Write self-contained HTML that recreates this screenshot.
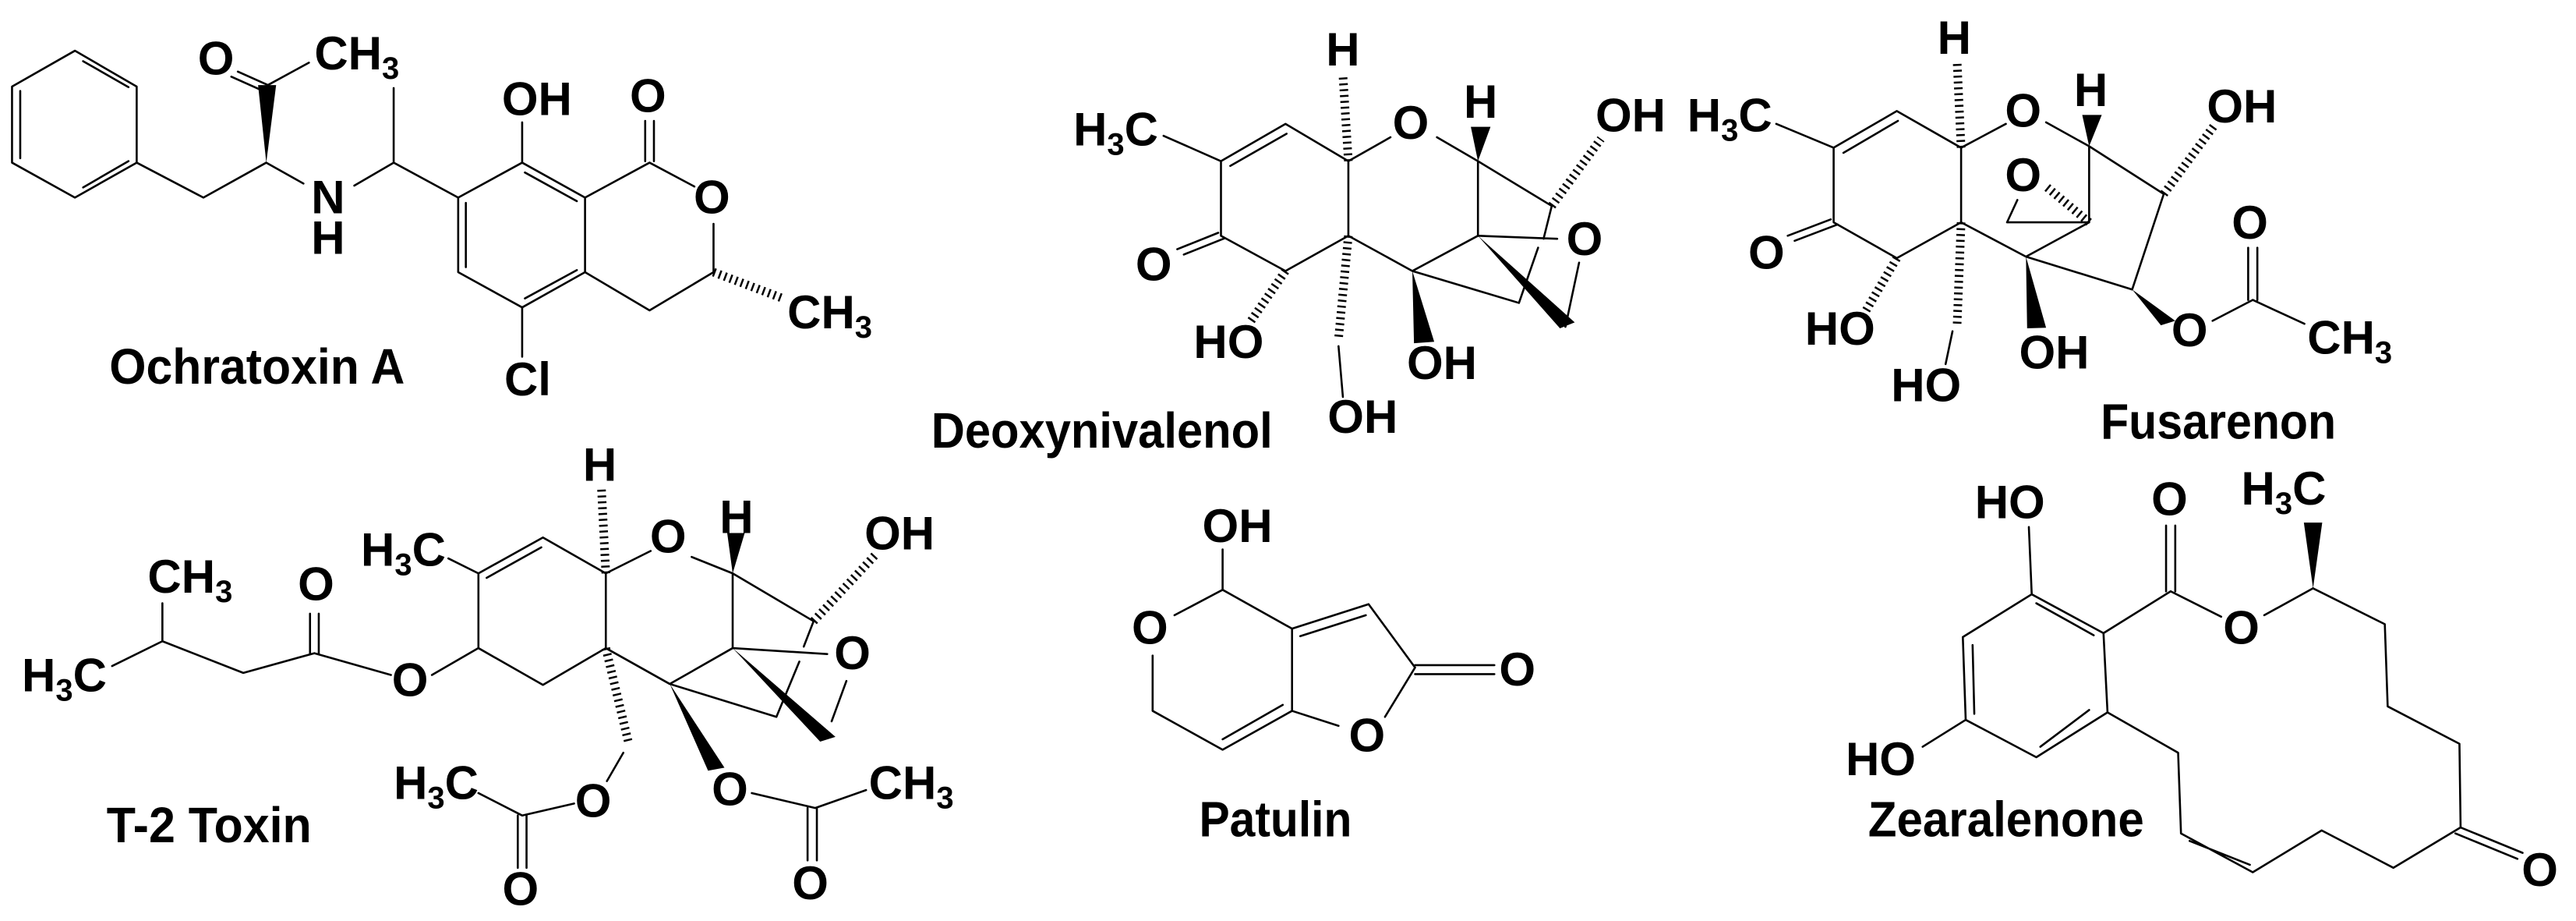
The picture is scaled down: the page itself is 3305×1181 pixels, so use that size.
<!DOCTYPE html>
<html><head><meta charset="utf-8"><style>
html,body{margin:0;padding:0;background:#fff;}
svg{display:block;}
.b{fill:none;stroke:#000;stroke-width:2.6;vector-effect:non-scaling-stroke;stroke-linecap:round;stroke-linejoin:round;}
.h{fill:none;stroke:#000;stroke-width:11;stroke-dasharray:2.5 5;vector-effect:non-scaling-stroke;}
.w{fill:#000;stroke:none;}
text{font-family:"Liberation Sans",Arial,sans-serif;font-weight:bold;font-size:60px;fill:#000;}
.n{font-size:64px;}
</style></head><body>
<svg width="3305" height="1181" viewBox="0 0 3305 1181" xmlns="http://www.w3.org/2000/svg">
<rect width="3305" height="1181" fill="#fff"/>

<!-- Ochratoxin A -->
<g transform="translate(0 0) scale(0.7015 0.3827)">
<path class="b" d="M137,170 L250,290 L250,545 L137,662 L22,545 L22,290 Z M152,205 L235,292 M235,540 L152,628 M37,305 L37,530"/>
<path class="b" d="M250,545 L372,662 L487,545 M490,285 L435,240 M478,302 L423,257 M490,285 L565,210 M487,545 L555,615 M648,622 L720,545 L720,295 M720,545 L838,662"/>
<polygon class="w" points="487,545 472,285 505,285"/>
<path class="b" d="M838,662 L955,545 L1070,662 L1070,912 L955,1030 L838,912 Z M960,578 L1055,674 M852,680 L852,895 M1055,905 L960,1000"/>
<path class="b" d="M955,545 L955,410 M1070,662 L1188,545 M1180,540 L1180,405 M1196,540 L1196,405 M1188,545 L1270,625 M1305,750 L1305,912 L1188,1040 L1070,912 M955,1030 L955,1195"/>
<path class="h" d="M1305,912 L1432,1000"/>
<text transform="translate(395 250) scale(1.4255 2.613)" text-anchor="middle">O</text>
<text transform="translate(575 232) scale(1.4255 2.613)">CH<tspan font-size="40" dy="12">3</tspan></text>
<text transform="translate(600 715) scale(1.4255 2.613)" text-anchor="middle">N</text>
<text transform="translate(600 850) scale(1.4255 2.613)" text-anchor="middle">H</text>
<text transform="translate(982 385) scale(1.4255 2.613)" text-anchor="middle">OH</text>
<text transform="translate(1185 375) scale(1.4255 2.613)" text-anchor="middle">O</text>
<text transform="translate(1302 715) scale(1.4255 2.613)" text-anchor="middle">O</text>
<text transform="translate(1440 1100) scale(1.4255 2.613)">CH<tspan font-size="40" dy="12">3</tspan></text>
<text transform="translate(965 1325) scale(1.4255 2.613)" text-anchor="middle">Cl</text>
<text class="n" transform="translate(200 1285) scale(1.4255 2.613)" textLength="379" lengthAdjust="spacingAndGlyphs">Ochratoxin A</text>
</g>

<!-- Deoxynivalenol -->
<g transform="translate(1100 0) scale(0.7015 0.3827)">
<path class="b" d="M560,455 L665,540 M665,540 L783,415 L898,540 L898,790 L783,908 L665,790 Z M682,556 L785,448"/>
<path class="b" d="M660,780 L585,835 M672,798 L597,853"/>
<path class="h" d="M898,540 L888,250 M1270,690 L1360,465 M783,908 L720,1075 M898,790 L880,1135"/>
<path class="b" d="M898,540 L975,460 M1060,460 L1135,540 M1135,540 L1270,690 M1270,690 L1255,800 M1245,830 L1210,1015 M1135,790 L1280,800 M1320,880 L1295,1095 M898,790 L1015,908 L1135,790 L1135,540 M1015,908 L1210,1015 M880,1160 L888,1330"/>
<polygon class="w" points="1135,540 1122,425 1158,425"/>
<polygon class="w" points="1135,790 1312,1080 1285,1100"/>
<polygon class="w" points="1015,908 1018,1150 1055,1145"/>
<text transform="translate(395 487) scale(1.4255 2.613)">H<tspan font-size="40" dy="12">3</tspan><tspan dy="-12">C</tspan></text>
<text transform="translate(542 940) scale(1.4255 2.613)" text-anchor="middle">O</text>
<text transform="translate(888 220) scale(1.4255 2.613)" text-anchor="middle">H</text>
<text transform="translate(1012 465) scale(1.4255 2.613)" text-anchor="middle">O</text>
<text transform="translate(1140 395) scale(1.4255 2.613)" text-anchor="middle">H</text>
<text transform="translate(1350 440) scale(1.4255 2.613)">OH</text>
<text transform="translate(1330 855) scale(1.4255 2.613)" text-anchor="middle">O</text>
<text transform="translate(1005 1270) scale(1.4255 2.613)">OH</text>
<text transform="translate(615 1200) scale(1.4255 2.613)">HO</text>
<text transform="translate(860 1450) scale(1.4255 2.613)">OH</text>
<text class="n" transform="translate(135 1500) scale(1.4255 2.613)" textLength="438" lengthAdjust="spacingAndGlyphs">Deoxynivalenol</text>
</g>

<!-- Fusarenon -->
<g transform="translate(2150 0) scale(0.7366 0.3827)">
<path class="b" d="M175,415 L275,495 M275,495 L385,372 L497,495 L497,745 L385,865 L275,745 Z M292,512 L387,405 M270,735 L195,790 M282,752 L207,807"/>
<path class="h" d="M497,495 L490,205 M850,650 L940,415 M720,745 L645,625 M385,865 L330,1045 M497,745 L490,1090"/>
<path class="b" d="M497,495 L575,415 M645,410 L720,490 M720,490 L850,650 M850,650 L795,970 M720,490 L720,745 M595,670 L577,745 L720,745 M497,745 L610,860 L720,745 M610,860 L795,970 M482,1110 L470,1220 M935,1075 L1005,1005 M997,1005 L997,830 M1013,1005 L1013,830 M1005,1005 L1095,1085"/>
<polygon class="w" points="720,490 708,385 742,385"/>
<polygon class="w" points="610,860 612,1100 645,1098"/>
<polygon class="w" points="795,970 845,1090 870,1075"/>
<text transform="translate(20 440) scale(1.3576 2.613)">H<tspan font-size="40" dy="12">3</tspan><tspan dy="-12">C</tspan></text>
<text transform="translate(158 900) scale(1.3576 2.613)" text-anchor="middle">O</text>
<text transform="translate(485 180) scale(1.3576 2.613)" text-anchor="middle">H</text>
<text transform="translate(605 425) scale(1.3576 2.613)" text-anchor="middle">O</text>
<text transform="translate(723 355) scale(1.3576 2.613)" text-anchor="middle">H</text>
<text transform="translate(925 410) scale(1.3576 2.613)">OH</text>
<text transform="translate(605 640) scale(1.3576 2.613)" text-anchor="middle">O</text>
<text transform="translate(598 1235) scale(1.3576 2.613)">OH</text>
<text transform="translate(225 1155) scale(1.3576 2.613)">HO</text>
<text transform="translate(375 1345) scale(1.3576 2.613)">HO</text>
<text transform="translate(895 1160) scale(1.3576 2.613)" text-anchor="middle">O</text>
<text transform="translate(1000 800) scale(1.3576 2.613)" text-anchor="middle">O</text>
<text transform="translate(1100 1185) scale(1.3576 2.613)">CH<tspan font-size="40" dy="12">3</tspan></text>
<text class="n" transform="translate(740 1470) scale(1.3576 2.613)" textLength="302" lengthAdjust="spacingAndGlyphs">Fusarenon</text>
</g>

<!-- T-2 Toxin -->
<g transform="translate(0 580) scale(0.7015 0.3833)">
<path class="b" d="M205,715 L297,632 L297,505 M297,632 L445,738 L575,672 M567,672 L567,540 M583,672 L583,540 M575,672 L715,745 M790,745 L875,655"/>
<path class="b" d="M875,655 L875,405 L993,285 L1108,405 L1108,655 L993,778 Z M890,420 L990,318 M820,355 L875,405"/>
<path class="h" d="M1108,405 L1100,120 M1488,565 L1600,345 M1108,655 L1150,975"/>
<path class="b" d="M1108,405 L1190,330 M1265,350 L1340,405 M1340,405 L1488,565 M1488,565 L1470,650 M1462,700 L1420,885 M1340,655 L1513,675 M1548,765 L1521,900 M1108,655 L1225,775 L1340,655 L1340,405 M1225,775 L1420,885 M1375,1140 L1491,1190 L1584,1130 M1477,1190 L1477,1365 M1494,1190 L1494,1365 M1140,1005 L1110,1100 M1050,1175 L955,1215 M947,1215 L947,1390 M963,1215 L963,1390 M955,1215 L875,1140"/>
<polygon class="w" points="1340,405 1330,270 1362,270"/>
<polygon class="w" points="1340,655 1500,968 1528,952"/>
<polygon class="w" points="1225,775 1295,1065 1325,1055"/>
<text transform="translate(40 800) scale(1.4255 2.609)">H<tspan font-size="40" dy="12">3</tspan><tspan dy="-12">C</tspan></text>
<text transform="translate(270 470) scale(1.4255 2.609)">CH<tspan font-size="40" dy="12">3</tspan></text>
<text transform="translate(578 495) scale(1.4255 2.609)" text-anchor="middle">O</text>
<text transform="translate(750 815) scale(1.4255 2.609)" text-anchor="middle">O</text>
<text transform="translate(660 380) scale(1.4255 2.609)">H<tspan font-size="40" dy="12">3</tspan><tspan dy="-12">C</tspan></text>
<text transform="translate(1097 95) scale(1.4255 2.609)" text-anchor="middle">H</text>
<text transform="translate(1222 335) scale(1.4255 2.609)" text-anchor="middle">O</text>
<text transform="translate(1347 270) scale(1.4255 2.609)" text-anchor="middle">H</text>
<text transform="translate(1581 325) scale(1.4255 2.609)">OH</text>
<text transform="translate(1559 725) scale(1.4255 2.609)" text-anchor="middle">O</text>
<text transform="translate(1335 1180) scale(1.4255 2.609)" text-anchor="middle">O</text>
<text transform="translate(1589 1160) scale(1.4255 2.609)">CH<tspan font-size="40" dy="12">3</tspan></text>
<text transform="translate(1482 1495) scale(1.4255 2.609)" text-anchor="middle">O</text>
<text transform="translate(1085 1220) scale(1.4255 2.609)" text-anchor="middle">O</text>
<text transform="translate(952 1515) scale(1.4255 2.609)" text-anchor="middle">O</text>
<text transform="translate(720 1160) scale(1.4255 2.609)">H<tspan font-size="40" dy="12">3</tspan><tspan dy="-12">C</tspan></text>
<text class="n" transform="translate(195 1305) scale(1.4255 2.609)" textLength="263" lengthAdjust="spacingAndGlyphs">T-2 Toxin</text>
</g>

<!-- Patulin -->
<g transform="translate(1100 580) scale(0.7015 0.3833)">
<path class="b" d="M668,325 L668,460 L580,545 M540,680 L540,865 L668,995 L795,865 L795,590 L668,460 M668,960 L778,845 M795,590 L935,508 L1020,720 M810,615 L930,545 M1020,712 L1165,712 M1020,742 L1165,742 M1020,720 L965,885 M880,915 L795,865"/>
<text transform="translate(695 300) scale(1.4255 2.609)" text-anchor="middle">OH</text>
<text transform="translate(535 640) scale(1.4255 2.609)" text-anchor="middle">O</text>
<text transform="translate(1207 780) scale(1.4255 2.609)" text-anchor="middle">O</text>
<text transform="translate(932 1000) scale(1.4255 2.609)" text-anchor="middle">O</text>
<text class="n" transform="translate(625 1285) scale(1.4255 2.609)" textLength="196" lengthAdjust="spacingAndGlyphs">Patulin</text>
</g>

<!-- Zearalenone -->
<g transform="translate(2150 580) scale(0.7366 0.3833)">
<path class="b" d="M615,250 L620,475 M620,475 L745,605 L752,870 L628,1020 L505,895 L500,618 Z M628,505 L728,612 M517,645 L520,875 M720,862 L635,985 M430,985 L505,895"/>
<path class="b" d="M745,605 L862,465 M854,465 L854,245 M870,465 L870,245 M862,465 L950,550 M1025,545 L1110,455"/>
<polygon class="w" points="1110,455 1094,235 1126,235"/>
<path class="b" d="M1110,455 L1235,575 L1240,850 L1365,975 L1367,1255 L1250,1390 L1125,1265 L1005,1405 L880,1275 L875,1005 L752,870 M895,1300 L1000,1380 M1367,1255 L1475,1340 M1358,1275 L1466,1360"/>
<text transform="translate(582 220) scale(1.3576 2.609)" text-anchor="middle">HO</text>
<text transform="translate(357 1080) scale(1.3576 2.609)" text-anchor="middle">HO</text>
<text transform="translate(860 210) scale(1.3576 2.609)" text-anchor="middle">O</text>
<text transform="translate(985 640) scale(1.3576 2.609)" text-anchor="middle">O</text>
<text transform="translate(985 175) scale(1.3576 2.609)">H<tspan font-size="40" dy="12">3</tspan><tspan dy="-12">C</tspan></text>
<text transform="translate(1505 1450) scale(1.3576 2.609)" text-anchor="middle">O</text>
<text class="n" transform="translate(335 1285) scale(1.3576 2.609)" textLength="354" lengthAdjust="spacingAndGlyphs">Zearalenone</text>
</g>
</svg>
</body></html>
